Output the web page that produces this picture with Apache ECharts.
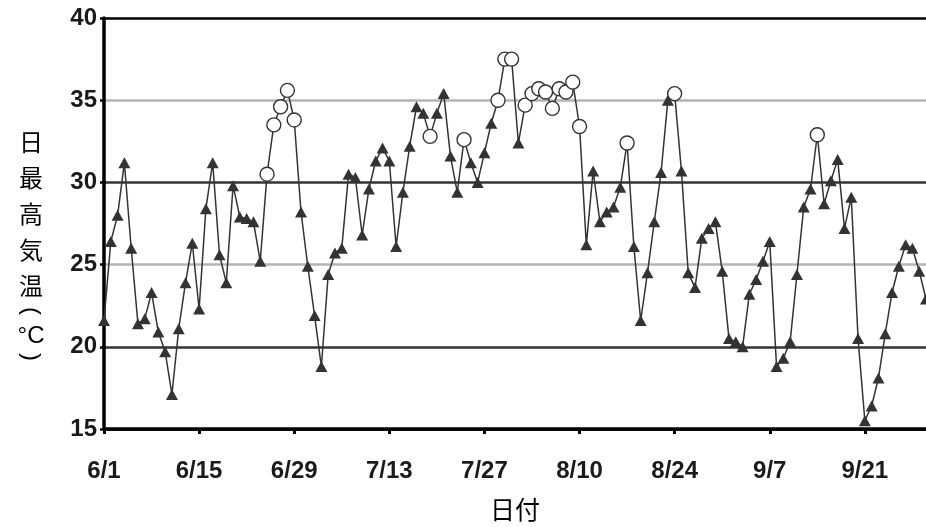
<!DOCTYPE html>
<html>
<head>
<meta charset="utf-8">
<script src="https://cdn.jsdelivr.net/npm/echarts@6/dist/echarts.min.js"></script>
<style>
  html, body { margin: 0; padding: 0; background: #fff; }
  #chart { width: 926px; height: 527px; }
</style>
</head>
<body>
<div id="chart"></div>
<script>
// 日最高気温 6/1〜9/30
const months = [6, 7, 8, 9]
const monthDays = [30, 31, 31, 30]
const tempMax = [
  21.6, 26.4, 28.0, 31.2, 26.0, 21.4, 21.7, 23.3, 20.9, 19.7,
  17.1, 21.1, 23.9, 26.3, 22.3, 28.4, 31.2, 25.6, 23.9, 29.8,
  27.9, 27.8, 27.6, 25.2, 30.5, 33.5, 34.6, 35.6, 33.8, 28.2,
  24.9, 21.9, 18.8, 24.4, 25.7, 26.0, 30.5, 30.3, 26.8, 29.6,
  31.3, 32.1, 31.3, 26.1, 29.4, 32.2, 34.6, 34.2, 32.8, 34.2,
  35.4, 31.6, 29.4, 32.6, 31.2, 30.0, 31.8, 33.6, 35.0, 37.5,
  37.5, 32.4, 34.7, 35.4, 35.7, 35.5, 34.5, 35.7, 35.5, 36.1,
  33.4, 26.2, 30.7, 27.6, 28.2, 28.5, 29.7, 32.4, 26.1, 21.6,
  24.5, 27.6, 30.6, 35.0, 35.4, 30.7, 24.5, 23.6, 26.6, 27.2,
  27.6, 24.6, 20.5, 20.3, 20.0, 23.2, 24.1, 25.2, 26.4, 18.8,
  19.3, 20.3, 24.4, 28.5, 29.6, 32.9, 28.7, 30.1, 31.4, 27.2,
  29.1, 20.5, 15.5, 16.4, 18.1, 20.8, 23.3, 24.9, 26.2, 26.0,
  24.6, 22.9
]
// 白丸で示す日 (6/1 = 0)
const circleDays = [24, 25, 26, 27, 28, 48, 53, 58, 59, 60, 62, 63, 64, 65, 66, 67, 68, 69, 70, 77, 84, 105]
const yTicks = [15, 20, 25, 30, 35, 40]

const dates = []
months.forEach((m, i) => {
  for (let d = 1; d <= monthDays[i]; d++) dates.push(m + '/' + d)
})

const seriesData = tempMax.map((v, i) => {
  if (circleDays.includes(i)) {
    return {
      value: v,
      symbol: 'circle',
      symbolSize: 14,
      itemStyle: { color: '#fff', borderColor: '#333', borderWidth: 1.4 }
    }
  }
  return { value: v }
})

const chart = echarts.init(document.getElementById('chart'))
const labelFont = '"Liberation Sans", Arial, sans-serif'
const cjkFont = '"Noto Sans CJK JP", sans-serif'

// 縦書きの軸名
const nameChars = ['日', '最', '高', '気', '温']
const graphic = nameChars.map((c, i) => ({
  type: 'text',
  x: 31,
  y: 142 + i * 36,
  style: { text: c, font: '24px ' + cjkFont, fill: '#000', align: 'center', verticalAlign: 'middle' }
}))
graphic.push(
  { type: 'text', x: 31, y: 311, rotation: -Math.PI / 2,
    style: { text: '(', font: '24px ' + labelFont, fill: '#000', align: 'center', verticalAlign: 'middle' } },
  { type: 'text', x: 31, y: 336,
    style: { text: '°C', font: '24px ' + labelFont, fill: '#000', align: 'center', verticalAlign: 'middle' } },
  { type: 'text', x: 31, y: 357, rotation: -Math.PI / 2,
    style: { text: ')', font: '24px ' + labelFont, fill: '#000', align: 'center', verticalAlign: 'middle' } }
)

chart.setOption({
  animation: false,
  backgroundColor: '#fff',
  grid: { left: 104, top: 18, width: 823, height: 412, containLabel: false },
  graphic: graphic,
  xAxis: {
    type: 'category',
    data: dates,
    boundaryGap: false,
    name: '日付',
    nameLocation: 'middle',
    nameGap: 68,
    nameTextStyle: { fontFamily: cjkFont, fontSize: 25, color: '#000' },
    axisLine: { lineStyle: { color: '#000', width: 3.5 } },
    axisTick: { interval: 13, length: 5, lineStyle: { color: '#000', width: 3 } },
    axisLabel: {
      interval: 13,
      margin: 30,
      fontFamily: labelFont,
      fontWeight: 'bold',
      fontSize: 24,
      color: '#1a1a1a'
    },
    splitLine: { show: false }
  },
  yAxis: {
    type: 'value',
    min: yTicks[0],
    max: yTicks[yTicks.length - 1],
    interval: 5,
    axisLine: { show: true, lineStyle: { color: '#000', width: 3.5 } },
    axisTick: { show: true, length: 4, lineStyle: { color: '#000', width: 2.5 } },
    axisLabel: {
      margin: 7,
      fontFamily: labelFont,
      fontWeight: 'bold',
      fontSize: 24,
      color: '#1a1a1a'
    },
    splitLine: {
      show: true,
      lineStyle: { color: ['#000', '#333', '#b4b4b4', '#333', '#b4b4b4', '#000'], width: 2.5 }
    }
  },
  series: [{
    type: 'line',
    data: seriesData,
    symbol: 'triangle',
    symbolSize: [12, 11],
    showAllSymbol: true,
    itemStyle: { color: '#333' },
    lineStyle: { color: '#333', width: 1.5 }
  }]
})
</script>
</body>
</html>
